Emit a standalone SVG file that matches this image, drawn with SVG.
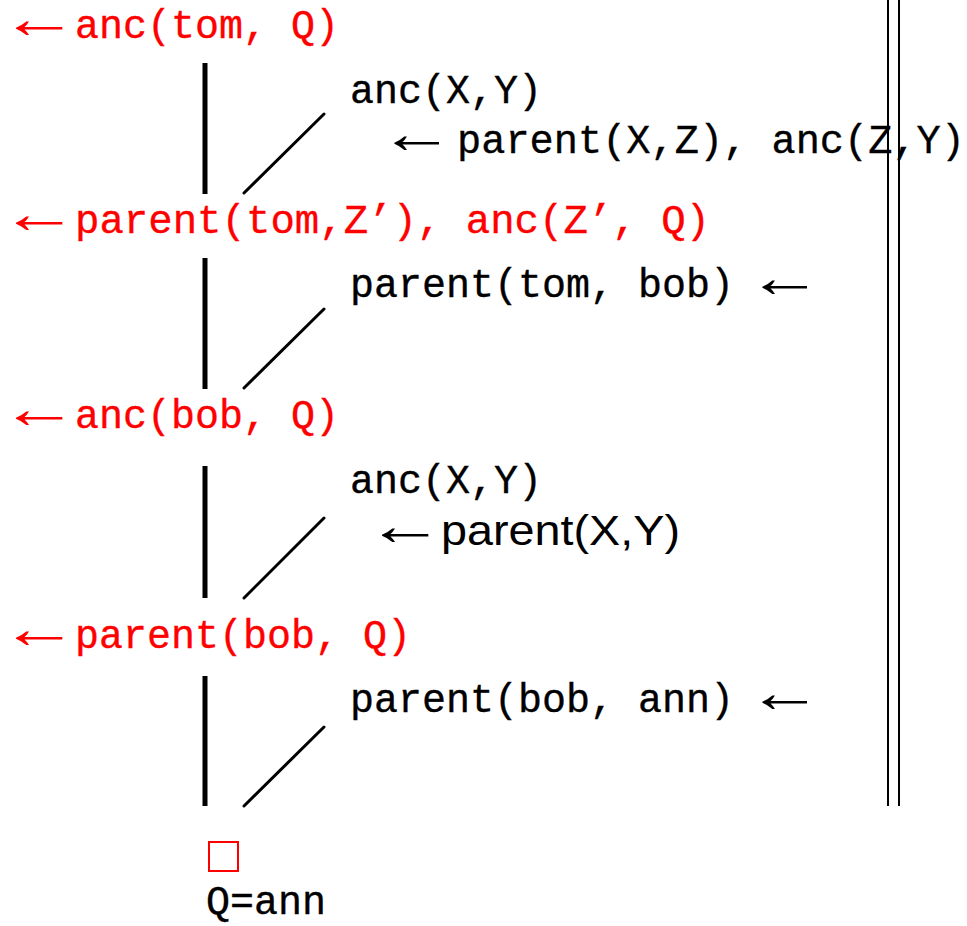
<svg xmlns="http://www.w3.org/2000/svg" width="967" height="926" viewBox="0 0 967 926">
<style>
.goal{font-family:"Liberation Mono",monospace;font-size:40px;fill:#ff0000;stroke:#ff0000;stroke-width:0.35}
.cl{font-family:"Liberation Mono",monospace;font-size:40px;fill:#000;stroke:#000;stroke-width:0.35}
.sans{font-family:"Liberation Sans","DejaVu Sans",sans-serif;font-size:42px;fill:#000}
.arr{font-family:"Liberation Serif","DejaVu Serif",serif;font-size:58px}
.ar{fill:#ff0000}
.ab{fill:#000}
.stem{stroke:#000;stroke-width:5;fill:none}
.diag{stroke:#000;stroke-width:3;fill:none;stroke-linecap:round}
.rule{stroke:#000;stroke-width:2;fill:none}
</style>
<rect width="967" height="926" fill="#fff"/>
<g id="rules">
<line class="rule" x1="888" y1="0" x2="888" y2="806"/>
<line class="rule" x1="899" y1="0" x2="899" y2="806"/>
</g>
<g id="goal1">
<text class="arr ar" transform="translate(0,38) scale(1.35,1)">←</text>
<text class="goal" x="75" y="38">anc(tom, Q)</text>
</g>
<g id="clause1">
<text class="cl" x="350" y="103">anc(X,Y)</text>
<text class="arr ab" transform="translate(379,153) scale(1.3,1)">←</text>
<text class="cl" x="457" y="153" textLength="508" lengthAdjust="spacingAndGlyphs">parent(X,Z), anc(Z,Y)</text>
</g>
<g id="goal2">
<text class="arr ar" transform="translate(0,233) scale(1.35,1)">←</text>
<text class="goal" x="75" y="233" textLength="635" lengthAdjust="spacingAndGlyphs">parent(tom,Z’), anc(Z’, Q)</text>
</g>
<g id="clause2">
<text class="cl" x="350" y="297">parent(tom, bob)</text>
<text class="arr ab" transform="translate(747,297) scale(1.3,1)">←</text>
</g>
<g id="goal3">
<text class="arr ar" transform="translate(0,428) scale(1.35,1)">←</text>
<text class="goal" x="75" y="428">anc(bob, Q)</text>
</g>
<g id="clause3">
<text class="cl" x="350" y="493">anc(X,Y)</text>
<text class="arr ab" transform="translate(366,545) scale(1.35,1)">←</text>
<text class="sans" x="441" y="545" textLength="239" lengthAdjust="spacingAndGlyphs">parent(X,Y)</text>
</g>
<g id="goal4">
<text class="arr ar" transform="translate(0,648) scale(1.35,1)">←</text>
<text class="goal" x="75" y="648">parent(bob, Q)</text>
</g>
<g id="clause4">
<text class="cl" x="350" y="712">parent(bob, ann)</text>
<text class="arr ab" transform="translate(747,712) scale(1.3,1)">←</text>
</g>
<g id="result">
<rect x="209" y="842" width="29" height="29" fill="none" stroke="#ff0000" stroke-width="2"/>
<text class="cl" x="206" y="914">Q=ann</text>
</g>
<g id="connectors">
<line class="stem" x1="205" y1="63" x2="205" y2="194"/>
<line class="diag" x1="244" y1="193" x2="324" y2="114"/>
<line class="stem" x1="205" y1="258" x2="205" y2="389"/>
<line class="diag" x1="244" y1="388" x2="324" y2="309"/>
<line class="stem" x1="205" y1="466" x2="205" y2="598"/>
<line class="diag" x1="244" y1="598" x2="324" y2="518"/>
<line class="stem" x1="205" y1="676" x2="205" y2="806"/>
<line class="diag" x1="244" y1="806" x2="324" y2="727"/>
</g>
</svg>
